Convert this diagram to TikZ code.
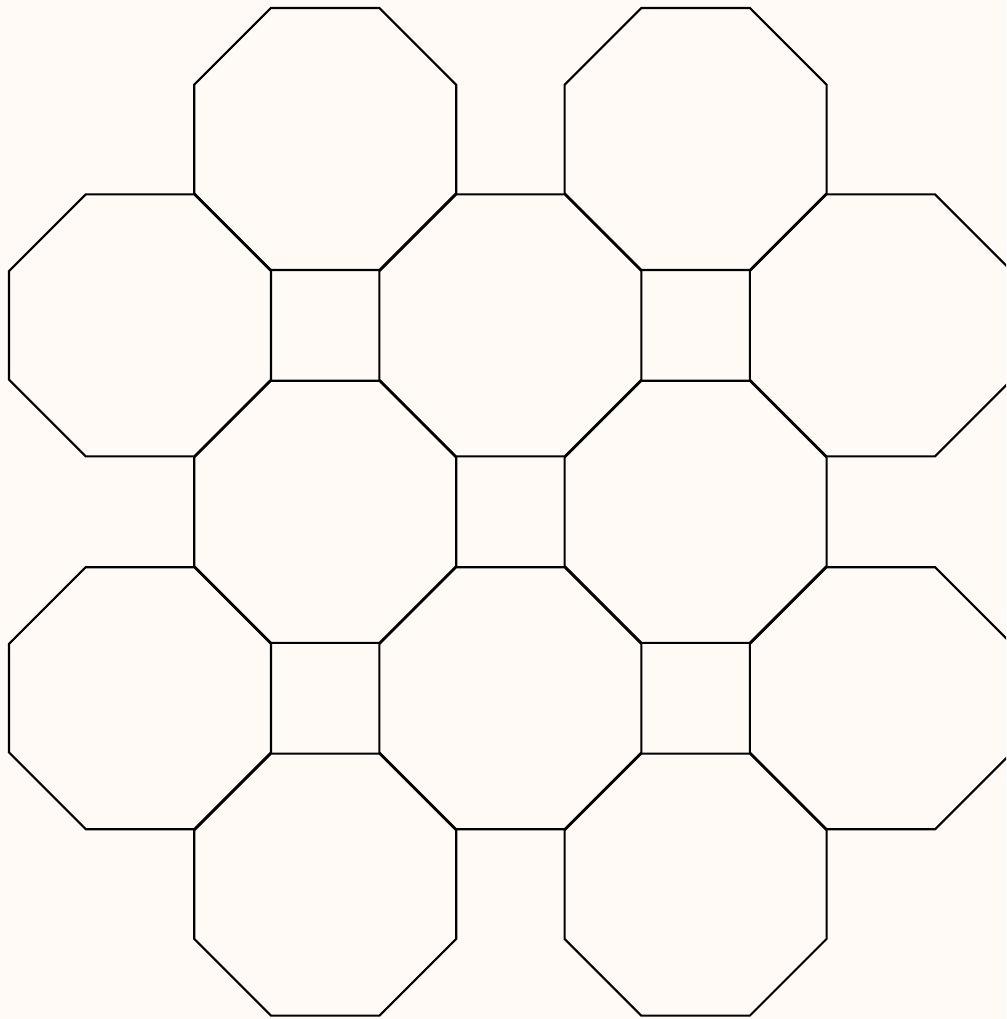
\documentclass[tikz,border=0pt]{standalone}
\usepackage{xcolor}
\usepackage{tikz}
\definecolor{paper}{RGB}{255,250,245}
\tikzset{tile/.style={
    draw=black,
    line width=0.6pt,
    line join=miter,
}}

\begin{document}
\begin{tikzpicture}[x=0.01cm,y=-0.01cm]
    \fill[paper] (0,0) rectangle (1006,1019);
    \clip (0,0) rectangle (1006,1019);
    % octagons on the cells with i+j odd, squares are the gaps
    \foreach \i in {0,...,4}{
        \foreach \j in {0,...,4}{
            \pgfmathtruncatemacro{\odd}{mod(\i+\j,2)}
            \ifnum\odd=1
                \draw[tile, shift={(140+\i*185.2,139+\j*186.4)}]
                    (22.5:141.8) \foreach \k in {1,...,7}{ -- (22.5+\k*45:141.8)} -- cycle;
            \fi
        }
    }
\end{tikzpicture}
\end{document}
